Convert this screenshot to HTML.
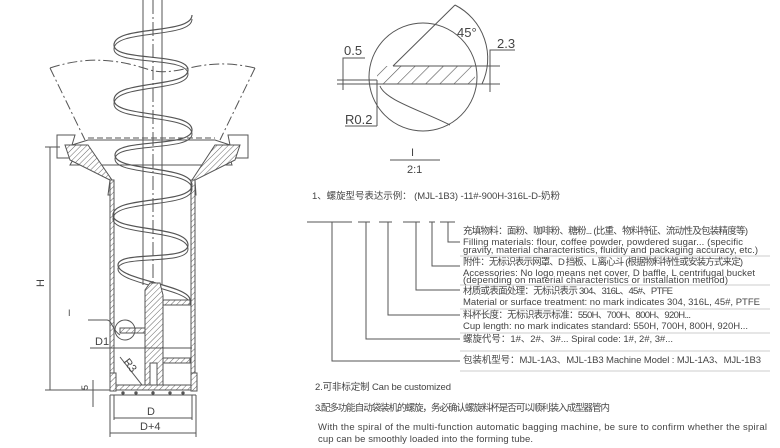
<!DOCTYPE html>
<html><head><meta charset="utf-8"><style>
body{margin:0;background:#fff}
svg{display:block}
text{font-family:"Liberation Sans","Noto Sans CJK SC",sans-serif;fill:#444}
</style></head><body>
<svg width="780" height="448" viewBox="0 0 780 448" xmlns="http://www.w3.org/2000/svg">
<defs>
<pattern id="h" width="4" height="4" patternUnits="userSpaceOnUse" patternTransform="rotate(45)"><rect width="4" height="4" fill="#fff"/><line x1="0" y1="0" x2="0" y2="4" stroke="#666" stroke-width="1"/></pattern>
<pattern id="h2" width="10" height="10" patternUnits="userSpaceOnUse" patternTransform="rotate(45)"><rect width="10" height="10" fill="#fff"/><line x1="0" y1="0" x2="0" y2="10" stroke="#555" stroke-width="1.2"/></pattern>
</defs>
<g stroke="#555" fill="none" stroke-width="1">
<path d="M50,68 C90,55 120,60 150,70 C180,78 200,55 255,68" stroke-dasharray="10,3,2,3"/>
<path d="M50,68 L85,140 M255,68 L220,140" stroke-dasharray="10,3,2,3"/>
<path d="M57,135 H75 L72,145 L88,140 H215 L230,145 L228,135 H248 V158 H230 L232,165 H70 L74,158 H57 Z"/>
<line x1="88" y1="138" x2="215" y2="138" stroke-dasharray="6,3"/>
<path d="M65,145 H88 L112,180 V195 L108,195 L110,180 L70,160 Z" fill="url(#h)"/>
<path d="M240,145 H215 L192,180 V195 L196,195 L195,180 L235,160 Z" fill="url(#h)"/>
<rect x="110" y="180" width="4" height="210" fill="url(#h)"/>
<rect x="191" y="180" width="4" height="210" fill="url(#h)"/>
<line x1="143" y1="0" x2="143" y2="285"/>
<line x1="162" y1="0" x2="162" y2="285"/>
<line x1="153" y1="0" x2="153" y2="395" stroke-dasharray="14,3,2,3"/>
<path d="M192,15 C192,35 114,25 114,45 C114,62 188,52 188,70 C188,88 114,80 114,100 C114,118 192,110 192,130 C192,148 115,138 115,155 C115,172 192,165 192,185 C192,205 113,195 113,215 C113,232 188,225 188,245 C188,262 118,250 118,265 C118,280 190,285 190,300" stroke-width="1.2"/>
<path d="M192,19 C192,39 114,29 114,49 C114,66 188,56 188,74 C188,92 114,84 114,104 C114,122 192,114 192,134 C192,152 115,142 115,159 C115,176 192,169 192,189 C192,209 113,199 113,219 C113,236 188,229 188,249 C188,266 118,254 118,269 C118,284 190,289 190,304" stroke-width="1"/>
<path d="M145,290 L150,283 H160 L163,295 V385 H145 Z" fill="url(#h)"/>
<rect x="163" y="300" width="27" height="5" fill="url(#h)"/>
<rect x="120" y="328" width="25" height="5" fill="url(#h)"/>
<rect x="163" y="358" width="27" height="5" fill="url(#h)"/>
<rect x="150" y="363" width="7" height="22" fill="#fff"/>
<circle cx="125" cy="330" r="10"/>
<path d="M88,320 H107 C112,320 112,330 120,335"/>
<rect x="110" y="373" width="6" height="18" fill="url(#h)"/>
<rect x="191" y="373" width="6" height="18" fill="url(#h)"/>
<rect x="116" y="385" width="75" height="5" fill="url(#h)"/>
<line x1="110" y1="395" x2="196" y2="395"/>
<g fill="#555"><circle cx="123" cy="393" r="1.2"/><circle cx="136" cy="393" r="1.2"/><circle cx="153" cy="393" r="1.2"/><circle cx="170" cy="393" r="1.2"/><circle cx="183" cy="393" r="1.2"/></g>
<line x1="45" y1="147" x2="60" y2="147"/><line x1="45" y1="390" x2="110" y2="390"/>
<line x1="50" y1="147" x2="50" y2="390"/>
<line x1="90" y1="348" x2="192" y2="348"/>
<line x1="120" y1="357" x2="142" y2="385"/>
<line x1="93" y1="380" x2="93" y2="407"/>
<line x1="114" y1="395" x2="114" y2="420"/><line x1="192" y1="395" x2="192" y2="420"/>
<line x1="114" y1="418" x2="192" y2="418"/>
<line x1="110" y1="395" x2="110" y2="437"/><line x1="196" y1="395" x2="196" y2="437"/>
<line x1="110" y1="433" x2="196" y2="433"/>
<circle cx="423" cy="77" r="54"/>
<rect x="377" y="66" width="98" height="18" fill="url(#h2)" stroke="none"/>
<line x1="393" y1="66" x2="500" y2="66"/>
<line x1="337" y1="84" x2="500" y2="84"/>
<line x1="337" y1="80" x2="377" y2="80"/>
<line x1="377" y1="80" x2="377" y2="126"/>
<line x1="393" y1="66" x2="455" y2="5"/>
<path d="M455,5 A60,60 0 0 1 482,84"/>
<path d="M380,86 C385,100 420,110 450,125"/>
<polyline points="343,58 365,58 343,58 343,90"/>
<polyline points="490,50 515,50 490,50 490,92"/>
<polyline points="345,126 377,126"/>
<line x1="390" y1="160" x2="440" y2="160"/>
<path d="M307,222 H352 M358,222 H370 M379,222 H392 M403,222 H420 M429,222 H435 M440,222 H455"/>
<path d="M448,222 V242 H460 M432,222 V266 H460 M416,222 V290 H460 M388,222 V315 H460 M366,222 V339 H460 M332,222 V361 H460"/>
<g stroke="#ccc"><line x1="460" y1="256" x2="770" y2="256"/><line x1="460" y1="285" x2="770" y2="285"/><line x1="460" y1="309" x2="770" y2="309"/><line x1="460" y1="333" x2="770" y2="333"/><line x1="460" y1="351" x2="770" y2="351"/><line x1="460" y1="371" x2="770" y2="371"/></g>
</g>
<g font-size="11">
<text x="44" y="287" transform="rotate(-90 44 287)">H</text>
<text x="95" y="345">D1</text>
<text x="123" y="362" transform="rotate(52 123 362)">R3</text>
<text x="92" y="398" font-size="9" transform="rotate(-90 86 396)">5</text>
<text x="147" y="415">D</text>
<text x="140" y="430">D+4</text>
<text x="68" y="316" font-size="9">I</text>
<text x="344" y="55" font-size="13">0.5</text>
<text x="497" y="48" font-size="13">2.3</text>
<text x="457" y="37" font-size="13">45°</text>
<text x="345" y="124" font-size="13">R0.2</text>
<text x="411" y="156" font-size="11">I</text>
<text x="407" y="173" font-size="11">2:1</text>
</g>
<g font-size="9.5">
<text x="312" y="199" textLength="248">1、螺旋型号表达示例： (MJL-1B3) -11#-900H-316L-D-奶粉</text>
<text x="463" y="234" textLength="285">充填物料：面粉、咖啡粉、糖粉... (比重、物料特征、流动性及包装精度等)</text>
<text x="463" y="245" textLength="280">Filling materials: flour, coffee powder, powdered sugar... (specific</text>
<text x="463" y="253" textLength="295">gravity, material characteristics, fluidity and packaging accuracy, etc.)</text>
<text x="463" y="265" textLength="280">附件：无标识表示网罩、D 挡板、L 离心斗 (根据物料特性或安装方式来定)</text>
<text x="463" y="276" textLength="292">Accessories: No logo means net cover, D baffle, L centrifugal bucket</text>
<text x="463" y="283" textLength="265">(depending on material characteristics or installation method)</text>
<text x="463" y="294" textLength="210">材质或表面处理：无标识表示 304、316L、45#、PTFE</text>
<text x="463" y="305" textLength="297">Material or surface treatment: no mark indicates 304, 316L, 45#, PTFE</text>
<text x="463" y="318" textLength="228">料杯长度：无标识表示标准：550H、700H、800H、920H...</text>
<text x="463" y="329" textLength="285">Cup length: no mark indicates standard: 550H, 700H, 800H, 920H...</text>
<text x="463" y="342" textLength="210">螺旋代号：1#、2#、3#... Spiral code: 1#, 2#, 3#...</text>
<text x="463" y="363" textLength="298">包装机型号：MJL-1A3、MJL-1B3  Machine Model : MJL-1A3、MJL-1B3</text>
<text x="315" y="390" textLength="136">2.可非标定制 Can be customized</text>
<text x="315" y="411" textLength="295">3.配多功能自动袋装机的螺旋，务必确认螺旋料杯是否可以顺利装入成型器管内</text>
<text x="318" y="430" textLength="449">With the spiral of the multi-function automatic bagging machine, be sure to confirm whether the spiral</text>
<text x="318" y="442" textLength="215">cup can be smoothly loaded into the forming tube.</text>
</g>
</svg>
</body></html>
